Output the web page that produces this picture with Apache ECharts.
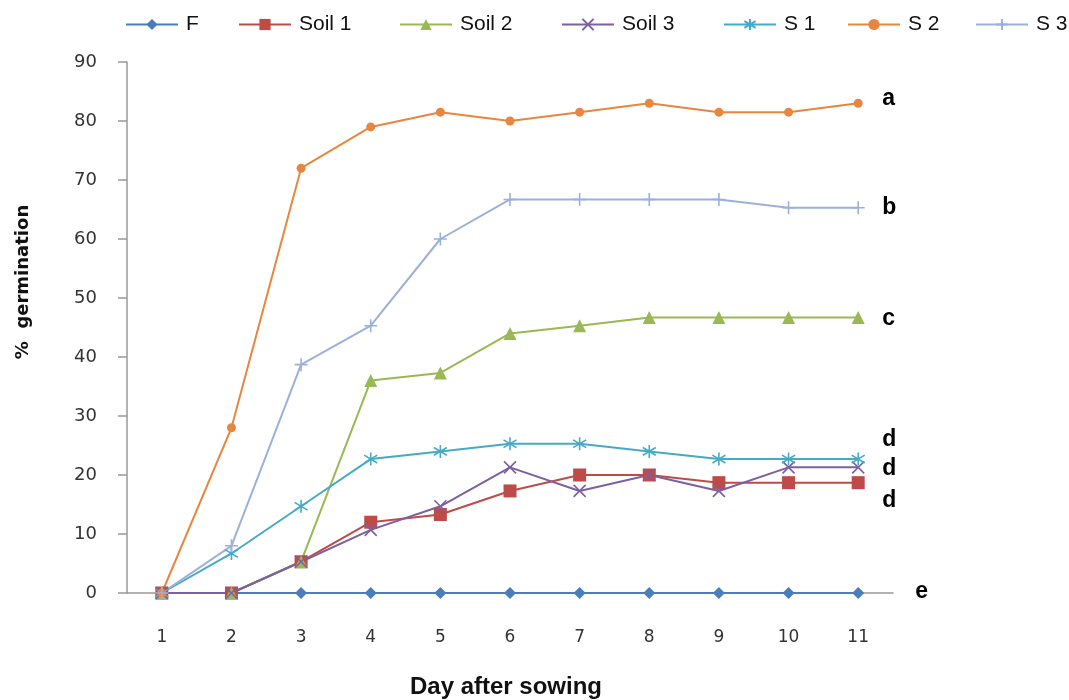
<!DOCTYPE html>
<html><head><meta charset="utf-8">
<script src="https://cdn.jsdelivr.net/npm/echarts@6/dist/echarts.min.js"></script>
<style>html,body{margin:0;padding:0;background:#fff}#c{width:1069px;height:700px}</style>
</head><body><div id="c"></div>
<script>
const days = ['1','2','3','4','5','6','7','8','9','10','11'];
const F     = [0,0,0,0,0,0,0,0,0,0,0];
const soil1 = [0,0,5.3,12,13.3,17.3,20,20,18.7,18.7,18.7];
const soil2 = [0,0,5.3,36,37.3,44,45.3,46.7,46.7,46.7,46.7];
const soil3 = [0,0,5.3,10.7,14.7,21.3,17.3,20,17.3,21.3,21.3];
const s1    = [0,6.7,14.7,22.7,24,25.3,25.3,24,22.7,22.7,22.7];
const s2    = [0,28,72,79,81.5,80,81.5,83,81.5,81.5,83];
const s3    = [0,8,38.7,45.3,60,66.7,66.7,66.7,66.7,65.3,65.3];
const seriesNames = ['F','Soil 1','Soil 2','Soil 3','S 1','S 2','S 3'];
const letters = ['a','b','c','d','d','d','e'];
const letterVals = [83.6,65,46.3,25.8,20.8,15.4,0];

const XPATH = 'path://M0 0 L10 10 M10 0 L0 10';
const STAR  = 'path://M5 0 L5 10 M0 2 L10 8 M0 8 L10 2';
const PLUS  = 'path://M5 0 L5 10 M0 5 L10 5';

function ser(name, data, color, symbol, size, stroke) {
  return {name, type:'line', data, symbol, symbolSize:size,
    lineStyle:{color, width:2}, color,
    itemStyle: stroke ? {color:'none', borderColor:color, borderWidth:1.6} : {color},
    emphasis:{disabled:true}, animation:false};
}
const legendLefts = [120,233,394,556,718,842,970];
const legends = seriesNames.map((n,i)=>({
  top:9, left:legendLefts[i], itemWidth:52, itemHeight:14, itemGap:0,
  textStyle:{fontFamily:'Liberation Sans', fontSize:21, color:'#111', padding:[0,0,0,3]},
  data:[n]
}));
const chart = echarts.init(document.getElementById('c'));
chart.setOption({
  animation:false,
  grid:{left:127, right:176, top:62, bottom:107, containLabel:false, outerBoundsMode:'none'},
  legend:legends,
  xAxis:{type:'category', data:days, boundaryGap:true,
    axisLine:{lineStyle:{color:'#999', width:1.5}}, axisTick:{show:false},
    axisLabel:{margin:36, fontFamily:'DejaVu Sans', fontSize:17, color:'#333'}},
  yAxis:{type:'value', min:0, max:90, interval:10,
    axisLine:{show:true, lineStyle:{color:'#999', width:1.5}},
    axisTick:{show:true, length:9, lineStyle:{color:'#999', width:1.5}},
    splitLine:{show:false},
    axisLabel:{margin:30, fontFamily:'DejaVu Sans', fontSize:18, color:'#333'}},
  series:[
    ser('F', F, '#4a7ebb', 'diamond', 12),
    ser('Soil 1', soil1, '#be4b48', 'rect', 13),
    ser('Soil 2', soil2, '#98b954', 'triangle', 13),
    ser('Soil 3', soil3, '#7d60a0', XPATH, 12, true),
    ser('S 1', s1, '#46aac5', STAR, 13, true),
    ser('S 2', s2, '#e8863f', 'circle', 9),
    ser('S 3', s3, '#9bb0db', PLUS, 13, true)
  ]
});
const gfx = [];
letters.forEach((t,i)=>{
  const p = chart.convertToPixel({gridIndex:0}, [10, letterVals[i]]);
  const dx = t==='e' ? 63 : 30;
  gfx.push({type:'text', left:p[0]+dx-6, top:p[1]-13,
    style:{text:t, font:'bold 23px Liberation Sans', fill:'#000'}});
});
gfx.push({type:'text', x:23, y:282, rotation:Math.PI/2,
  style:{text:'%  germination', font:'bold 18px DejaVu Sans', fill:'#111', align:'center', verticalAlign:'middle'}});
const xc = chart.convertToPixel({gridIndex:0}, [5, 0]);
gfx.push({type:'text', x:xc[0]-4, y:687,
  style:{text:'Day after sowing', font:'bold 24px Liberation Sans', fill:'#111', align:'center', verticalAlign:'middle'}});
chart.setOption({graphic:gfx});
</script></body></html>
